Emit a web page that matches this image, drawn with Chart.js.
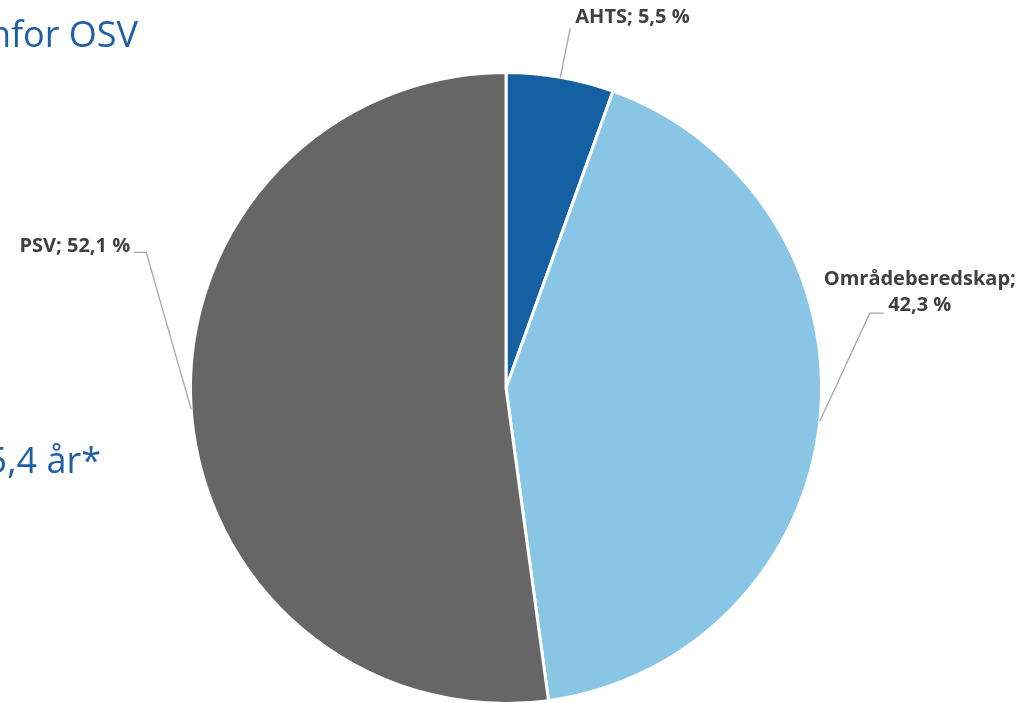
<!DOCTYPE html>
<html>
<head>
<meta charset="utf-8">
<script src="https://cdn.jsdelivr.net/npm/chart.js@4.4.0/dist/chart.umd.min.js"></script>
<style>
  body { margin: 0; background: #fff; overflow: hidden; }
  #wrap { position: relative; width: 1023px; height: 703px; overflow: hidden; }
  .side { position: absolute; white-space: nowrap; font-family: "Open Sans", sans-serif; color: #1F5FA3; }
</style>
</head>
<body>
<div id="wrap">
  <canvas id="pieChart" width="1023" height="706"></canvas>
  <div class="side" id="title1" style="right: 885px; top: 9px; font-size: 36px;">nfor OSV</div>
  <div class="side" id="title2" style="right: 922px; top: 435px; font-size: 36px;">5,4 år*</div>
</div>
<script>
let categories = ['AHTS', 'Områdeberedskap', 'PSV'];
let shares = [5.5, 42.3, 52.1];
let sliceColors = ['#1460A3', '#89C6E5', '#666666'];

// where each label sits relative to the point on the rim (mid angle of the slice)
let labelLayout = [
    { elbow: [10, -49], end: [10, -49], text: [15, -60], align: 'left', wrap: false },
    { elbow: [50, -108], end: [64, -108], text: [100, -142], align: 'center', wrap: true },
    { elbow: [-45, -157], end: [-57, -157], text: [-61, -163], align: 'right', wrap: false }
];

function fmt(v) {
    return v.toFixed(1).replace('.', ',') + ' %';
}

const leaderLabels = {
    id: 'leaderLabels',
    afterDatasetsDraw(chart) {
        const ctx = chart.ctx;
        const meta = chart.getDatasetMeta(0);
        ctx.save();
        meta.data.forEach(function (arc, i) {
            const p = arc.getProps(['x', 'y', 'startAngle', 'endAngle', 'outerRadius'], true);
            const mid = (p.startAngle + p.endAngle) / 2;
            const ax = p.x + Math.cos(mid) * p.outerRadius;
            const ay = p.y + Math.sin(mid) * p.outerRadius;
            const lay = labelLayout[i];

            ctx.strokeStyle = '#A6A6A6';
            ctx.lineWidth = 1.3;
            ctx.beginPath();
            ctx.moveTo(ax, ay);
            ctx.lineTo(ax + lay.elbow[0], ay + lay.elbow[1]);
            ctx.lineTo(ax + lay.end[0], ay + lay.end[1]);
            ctx.stroke();

            ctx.fillStyle = '#404040';
            ctx.font = 'bold 20px "Open Sans"';
            ctx.textAlign = lay.align;
            ctx.textBaseline = 'middle';
            const tx = ax + lay.text[0];
            const ty = ay + lay.text[1];
            if (lay.wrap) {
                ctx.fillText(categories[i] + ';', tx, ty);
                ctx.fillText(fmt(shares[i]), tx, ty + 26);
            } else {
                ctx.fillText(categories[i] + '; ' + fmt(shares[i]), tx, ty);
            }
        });
        ctx.restore();
    }
};

const pieCtx = document.getElementById('pieChart').getContext('2d');
new Chart(pieCtx, {
    type: 'pie',
    data: {
        labels: categories,
        datasets: [{
            data: shares,
            backgroundColor: sliceColors,
            borderColor: '#ffffff',
            borderWidth: 3
        }]
    },
    options: {
        responsive: false,
        animation: false,
        layout: { padding: { top: 71, bottom: 1, left: 189, right: 200 } },
        plugins: {
            legend: { display: false },
            tooltip: { enabled: false }
        }
    },
    plugins: [leaderLabels]
});
</script>
</body>
</html>
